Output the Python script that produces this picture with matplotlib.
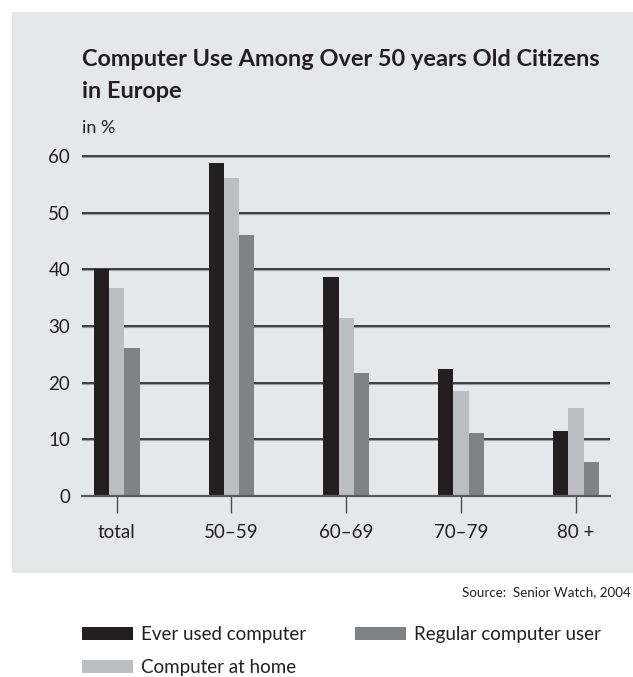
import matplotlib
matplotlib.use("Agg")
import matplotlib.pyplot as plt
from matplotlib.patches import Rectangle, Patch
import numpy as np

categories = ["total", "50–59", "60–69", "70–79", "80 +"]
ever_used = [40.0, 58.8, 38.6, 22.4, 11.5]
at_home = [36.7, 56.1, 31.4, 18.5, 15.5]
regular = [26.1, 46.1, 21.7, 11.1, 6.0]
series_names = ["Ever used computer", "Computer at home", "Regular computer user"]
yticks = [0, 10, 20, 30, 40, 50, 60]

colors = ["#231f20", "#bcbec1", "#808285"]
panel = "#e6e7e9"
FONT = ["Lato", "DejaVu Sans"]
plt.rcParams["font.family"] = FONT

W, H = 633, 677
fig = plt.figure(figsize=(W / 100, H / 100), dpi=100)
fig.patch.set_facecolor("white")
fig.patches.append(Rectangle((12 / W, 1 - 573 / H), 1, (573 - 12) / H,
                             transform=fig.transFigure, facecolor=panel,
                             edgecolor="none", zorder=-5))

# axes: 0 at y=496, 60 at y=156
ppu = (496 - 156) / 60
ytop = 61
top_px = 496 - ytop * ppu
ax = fig.add_axes([82 / W, 1 - 496 / H, (610 - 82) / W, (496 - top_px) / H])
ax.set_zorder(2)
ax.set_facecolor("none")
ax.set_ylim(0, ytop)
ax.set_xlim(-0.302, 4.297)

x = np.arange(len(categories))
bw = 0.133
for i, (vals, c) in enumerate(zip([ever_used, at_home, regular], colors)):
    ax.bar(x + (i - 1) * bw, vals, width=bw, color=c, zorder=3, linewidth=0)

for v in yticks[1:]:
    ax.axhline(v, color="#222222", linewidth=1.2, zorder=2)
    ax.axhline(v - 0.2, color="#9a9a9c", linewidth=0.8, zorder=1)
for s in ["top", "right", "left"]:
    ax.spines[s].set_visible(False)
ax.spines["bottom"].set_color("#5a5a5c")
ax.spines["bottom"].set_linewidth(1.6)
ax.spines["bottom"].set_zorder(4)

ax.set_yticks(yticks)
ax.set_yticklabels([str(v) for v in yticks])
ax.tick_params(axis="y", length=0, pad=8.5, labelsize=13.5, labelcolor="#231f20")
ax.set_xticks(x)
ax.set_xticklabels(categories)
ax.tick_params(axis="x", length=12, width=1.0, color="#4a4a4a", pad=8.5,
               labelsize=13.5, labelcolor="#231f20")

fig.text(82 / W, 1 - 60 / H, "Computer Use Among Over 50 years Old Citizens",
         fontsize=16.9, fontweight="bold", color="#231f20", va="center", ha="left")
fig.text(82 / W, 1 - 92 / H, "in Europe",
         fontsize=16.9, fontweight="bold", color="#231f20", va="center", ha="left")
fig.text(82 / W, 1 - 128 / H, "in %", fontsize=13, color="#231f20",
         va="center", ha="left")
fig.text(631 / W, 1 - 592 / H, "Source:  Senior Watch, 2004", fontsize=9.6,
         color="#231f20", va="center", ha="right")

handles = [Patch(facecolor=c, edgecolor="none") for c in colors]
fig.legend(handles, series_names, loc="upper left",
           bbox_to_anchor=(82 / W, 1 - 626 / H), ncol=2, frameon=False,
           fontsize=13.5, handlelength=2.7, handleheight=0.7,
           handletextpad=0.45, columnspacing=2.6, labelspacing=0.86,
           borderpad=0, borderaxespad=0, labelcolor="#231f20")

fig.savefig("out.png", dpi=100)
